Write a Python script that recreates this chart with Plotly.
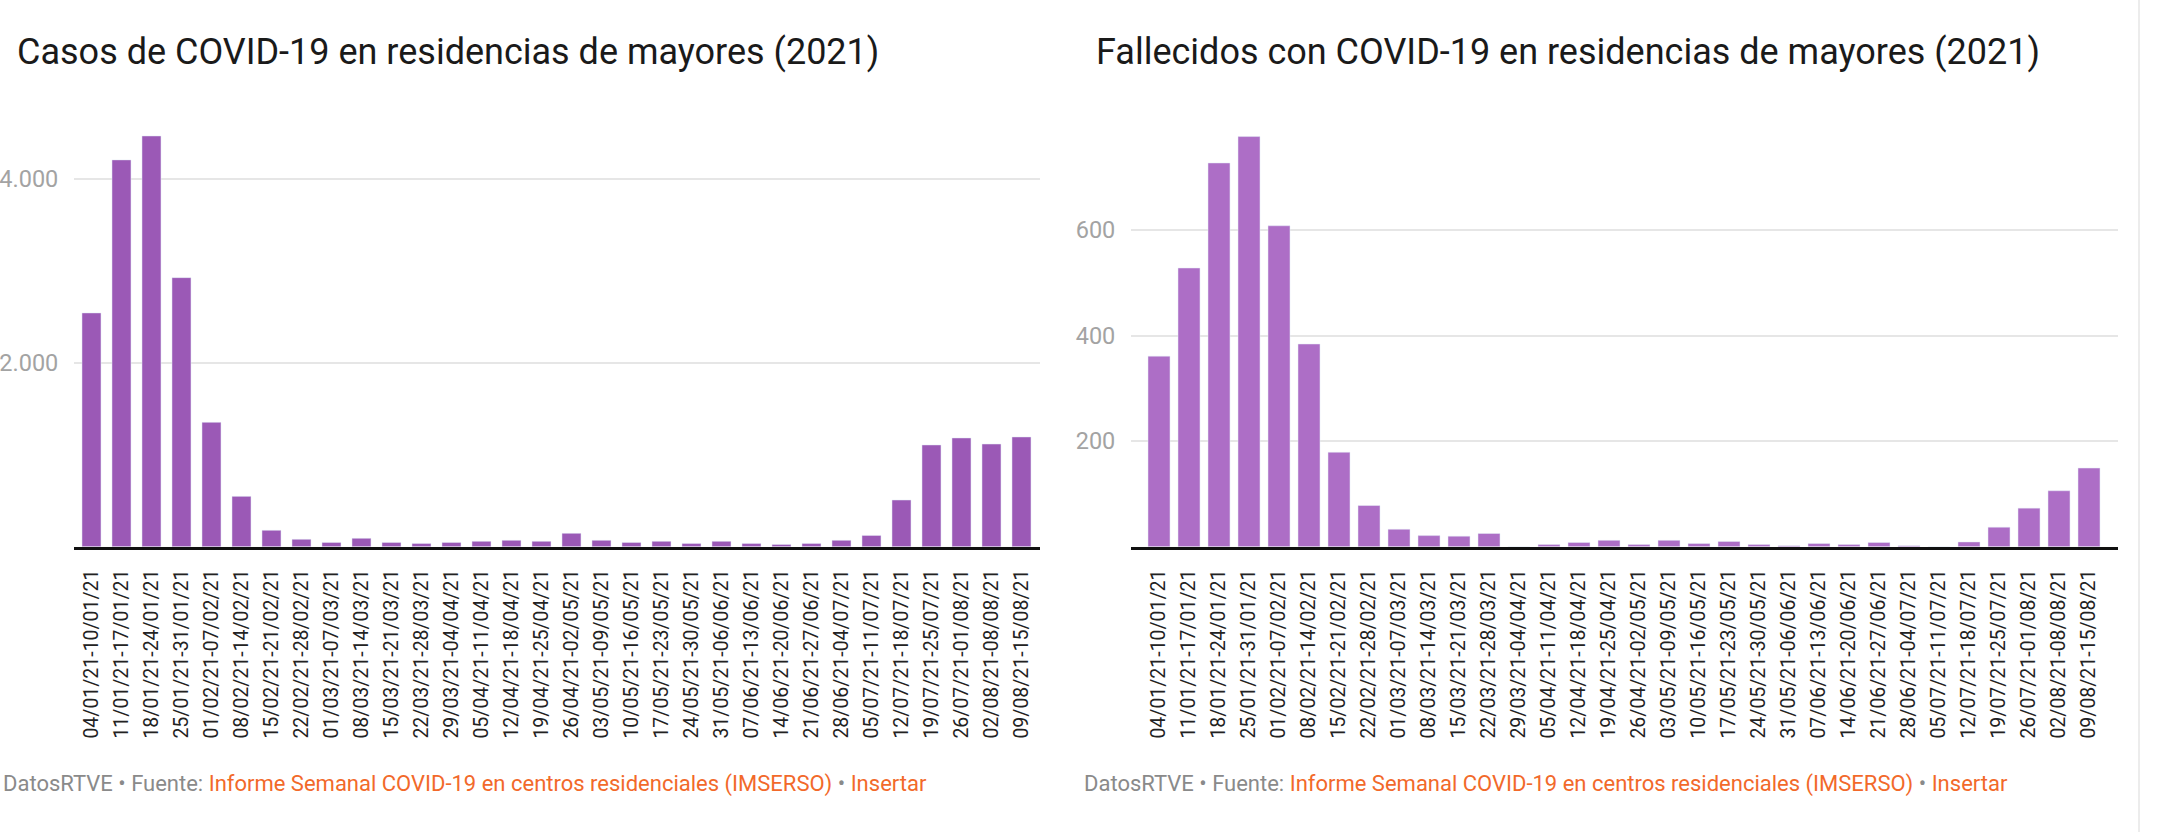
import plotly.graph_objects as go

W, H = 2170, 832

semanas = [
    "04/01/21-10/01/21", "11/01/21-17/01/21", "18/01/21-24/01/21", "25/01/21-31/01/21",
    "01/02/21-07/02/21", "08/02/21-14/02/21", "15/02/21-21/02/21", "22/02/21-28/02/21",
    "01/03/21-07/03/21", "08/03/21-14/03/21", "15/03/21-21/03/21", "22/03/21-28/03/21",
    "29/03/21-04/04/21", "05/04/21-11/04/21", "12/04/21-18/04/21", "19/04/21-25/04/21",
    "26/04/21-02/05/21", "03/05/21-09/05/21", "10/05/21-16/05/21", "17/05/21-23/05/21",
    "24/05/21-30/05/21", "31/05/21-06/06/21", "07/06/21-13/06/21", "14/06/21-20/06/21",
    "21/06/21-27/06/21", "28/06/21-04/07/21", "05/07/21-11/07/21", "12/07/21-18/07/21",
    "19/07/21-25/07/21", "26/07/21-01/08/21", "02/08/21-08/08/21", "09/08/21-15/08/21",
]

casos = [2543, 4208, 4468, 2927, 1353, 548, 178, 80,
         47, 91, 47, 36, 47, 58, 69, 58,
         145, 69, 47, 58, 36, 58, 36, 25,
         36, 69, 123, 508, 1107, 1183, 1117, 1194]

fallecidos = [361, 528, 727, 777, 608, 384, 179, 78,
              33, 21, 20, 25, 0, 4, 8, 12,
              4, 12, 6, 10, 4, 2, 6, 4,
              8, 2, 0, 9, 37, 73, 106, 149]

casos_ticks = [2000, 4000]
fallecidos_ticks = [200, 400, 600]

titulo_izq = "Casos de COVID-19 en residencias de mayores (2021)"
titulo_der = "Fallecidos con COVID-19 en residencias de mayores (2021)"
pie = ("<span style='color:#8a8a8a'>DatosRTVE • Fuente: </span>"
       "<span style='color:#f2692a'>Informe Semanal COVID-19 en centros residenciales (IMSERSO)</span>"
       "<span style='color:#8a8a8a'> • </span>"
       "<span style='color:#f2692a'>Insertar</span>")

FONT = "Roboto"

def px(x):
    return x / W

def py(y):
    return 1 - y / H

fig = go.Figure()
idx = list(range(len(semanas)))
fig.add_trace(go.Bar(x=idx, y=casos, marker_color="#9b59b6", xaxis="x", yaxis="y",
                     width=0.633, hoverinfo="skip"))
fig.add_trace(go.Bar(x=idx, y=fallecidos, marker_color="#ad6ec6", xaxis="x2", yaxis="y2",
                     width=0.733, hoverinfo="skip"))

base = 546.7
top = 120.0
ydom = [py(base), py(top)]

left_scale = (base - 179.0) / 4000.0
right_scale = (base - 230.0) / 600.0

xcommon = dict(
    tickmode="array", tickvals=idx, ticktext=semanas, tickangle=-90,
    tickfont=dict(family=FONT, size=19.5, color="#222"),
    showgrid=False, zeroline=False, showline=True, linecolor="#111", linewidth=3,
    ticks="outside", ticklen=12, tickcolor="rgba(0,0,0,0)", fixedrange=True,
)
ycommon = dict(
    tickfont=dict(family=FONT, size=23.5, color="#a3a3a3"),
    showgrid=True, gridcolor="#e6e6e6", gridwidth=2, zeroline=False, showline=False,
    ticks="outside", ticklen=10, tickcolor="rgba(0,0,0,0)", fixedrange=True,
)

fig.update_layout(
    width=W, height=H, margin=dict(l=0, r=0, t=0, b=0),
    paper_bgcolor="white", plot_bgcolor="white", showlegend=False,
    separators=",.",
    xaxis=dict(domain=[px(74), px(1040)], range=[-0.583, 31.617], anchor="y", **xcommon),
    yaxis=dict(domain=ydom, range=[0, (base - top) / left_scale], anchor="x",
               tickmode="array", tickvals=casos_ticks, tickformat=",d", **ycommon),
    xaxis2=dict(domain=[px(1131), px(2118)], range=[-0.933, 31.967], anchor="y2", **xcommon),
    yaxis2=dict(domain=ydom, range=[0, (base - top) / right_scale], anchor="x2",
                tickmode="array", tickvals=fallecidos_ticks, tickformat=",d", **ycommon),
    annotations=[
        dict(text=titulo_izq, x=px(15), y=py(52), xref="paper", yref="paper",
             xanchor="left", yanchor="middle", showarrow=False,
             font=dict(family=FONT, size=36, color="#1a1a1a")),
        dict(text=titulo_der, x=px(1094), y=py(52), xref="paper", yref="paper",
             xanchor="left", yanchor="middle", showarrow=False,
             font=dict(family=FONT, size=36, color="#1a1a1a")),
        dict(text=pie, x=px(1), y=py(784), xref="paper", yref="paper",
             xanchor="left", yanchor="middle", showarrow=False,
             font=dict(family=FONT, size=22, color="#8a8a8a")),
        dict(text=pie, x=px(1082), y=py(784), xref="paper", yref="paper",
             xanchor="left", yanchor="middle", showarrow=False,
             font=dict(family=FONT, size=22, color="#8a8a8a")),
    ],
    shapes=[
        dict(type="line", xref="paper", yref="paper", x0=px(2139), x1=px(2139), y0=0, y1=1,
             line=dict(color="#ececec", width=2)),
    ],
)

fig.write_html("out.html", config={"displayModeBar": False})
